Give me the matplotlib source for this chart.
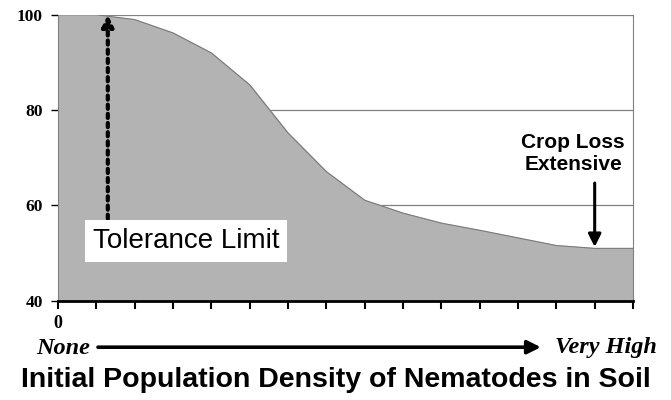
import matplotlib.pyplot as plt
import numpy as np

# yield (% of maximum) at each step of initial nematode density
density = list(range(16))
yield_pct = [100, 100, 99, 96.2, 92, 85.3, 75.2, 67.1, 61.1, 58.4, 56.3, 54.8, 53.2, 51.6, 51, 51]
yticks = [40, 60, 80, 100]

tolerance_x = 1.3
loss_x = 14

fig = plt.figure(figsize=(6.71, 4.0), dpi=100)
ax = fig.add_axes([0.0864, 0.248, 0.857, 0.715])

ax.fill_between(density, yield_pct, 40, color='#b3b3b3', zorder=2)
ax.plot(density, yield_pct, color='#7a7a7a', lw=0.8, zorder=3)

ax.set_xlim(0, 15)
ax.set_ylim(40, 100)
ax.set_yticks(yticks)
ax.set_yticklabels([str(v) for v in yticks], family='Liberation Serif',
                   fontweight='bold', fontsize=12.5)
for v in yticks[1:]:
    ax.axhline(v, color='#808080', lw=0.9, zorder=1)
ax.set_xticks(density)
ax.set_xticklabels(['0'] + [''] * 15, family='Liberation Serif',
                   fontweight='bold', fontsize=13)
ax.tick_params(axis='x', direction='out', length=6, width=1.5, color='black', pad=4)
ax.tick_params(axis='y', direction='out', length=5, width=1.0, color='black', pad=6)
ax.spines['top'].set_visible(False)
ax.spines['right'].set_color('#808080')
ax.spines['left'].set_color('#808080')
ax.spines['bottom'].set_linewidth(2)
ax.spines['bottom'].set_zorder(5)

# tolerance limit arrow (dotted)
ax.annotate('', xy=(tolerance_x, 100), xytext=(tolerance_x, 57.2),
            arrowprops=dict(arrowstyle='-|>', color='black', lw=3,
                            linestyle=(0, (1, 1.2)), mutation_scale=17,
                            shrinkA=0, shrinkB=0), zorder=6)
ax.text(0.91, 52.6, 'Tolerance Limit', fontsize=20, family='Liberation Sans',
        va='center', ha='left', zorder=7,
        bbox=dict(boxstyle='square,pad=0.28', fc='white', ec='none'))

# crop loss arrow
ax.annotate('', xy=(loss_x, 51.3), xytext=(loss_x, 64.7),
            arrowprops=dict(arrowstyle='-|>', color='black', lw=2.2,
                            mutation_scale=19, shrinkA=0, shrinkB=0), zorder=6)
ax.text(13.44, 70.8, 'Crop Loss\nExtensive', fontsize=15, family='Liberation Sans',
        fontweight='bold', ha='center', va='center', linespacing=1.2, zorder=7)

# bottom labels
fig.text(0.054, 0.13, 'None', family='Liberation Serif', style='italic',
         fontweight='bold', fontsize=17.5, ha='left', va='center')
fig.text(0.979, 0.13, 'Very High', family='Liberation Serif', style='italic',
         fontweight='bold', fontsize=17.5, ha='right', va='center')
fig.add_artist(plt.Annotation('', xy=(0.806, 0.132), xytext=(0.146, 0.132),
                              xycoords='figure fraction',
                              arrowprops=dict(arrowstyle='-|>', color='black', lw=2.6,
                                              mutation_scale=20, shrinkA=0, shrinkB=0)))
fig.text(0.5, 0.05, 'Initial Population Density of Nematodes in Soil',
         family='Liberation Sans', fontweight='bold', fontsize=20.5,
         ha='center', va='center')

fig.savefig('out.png', dpi=100)
